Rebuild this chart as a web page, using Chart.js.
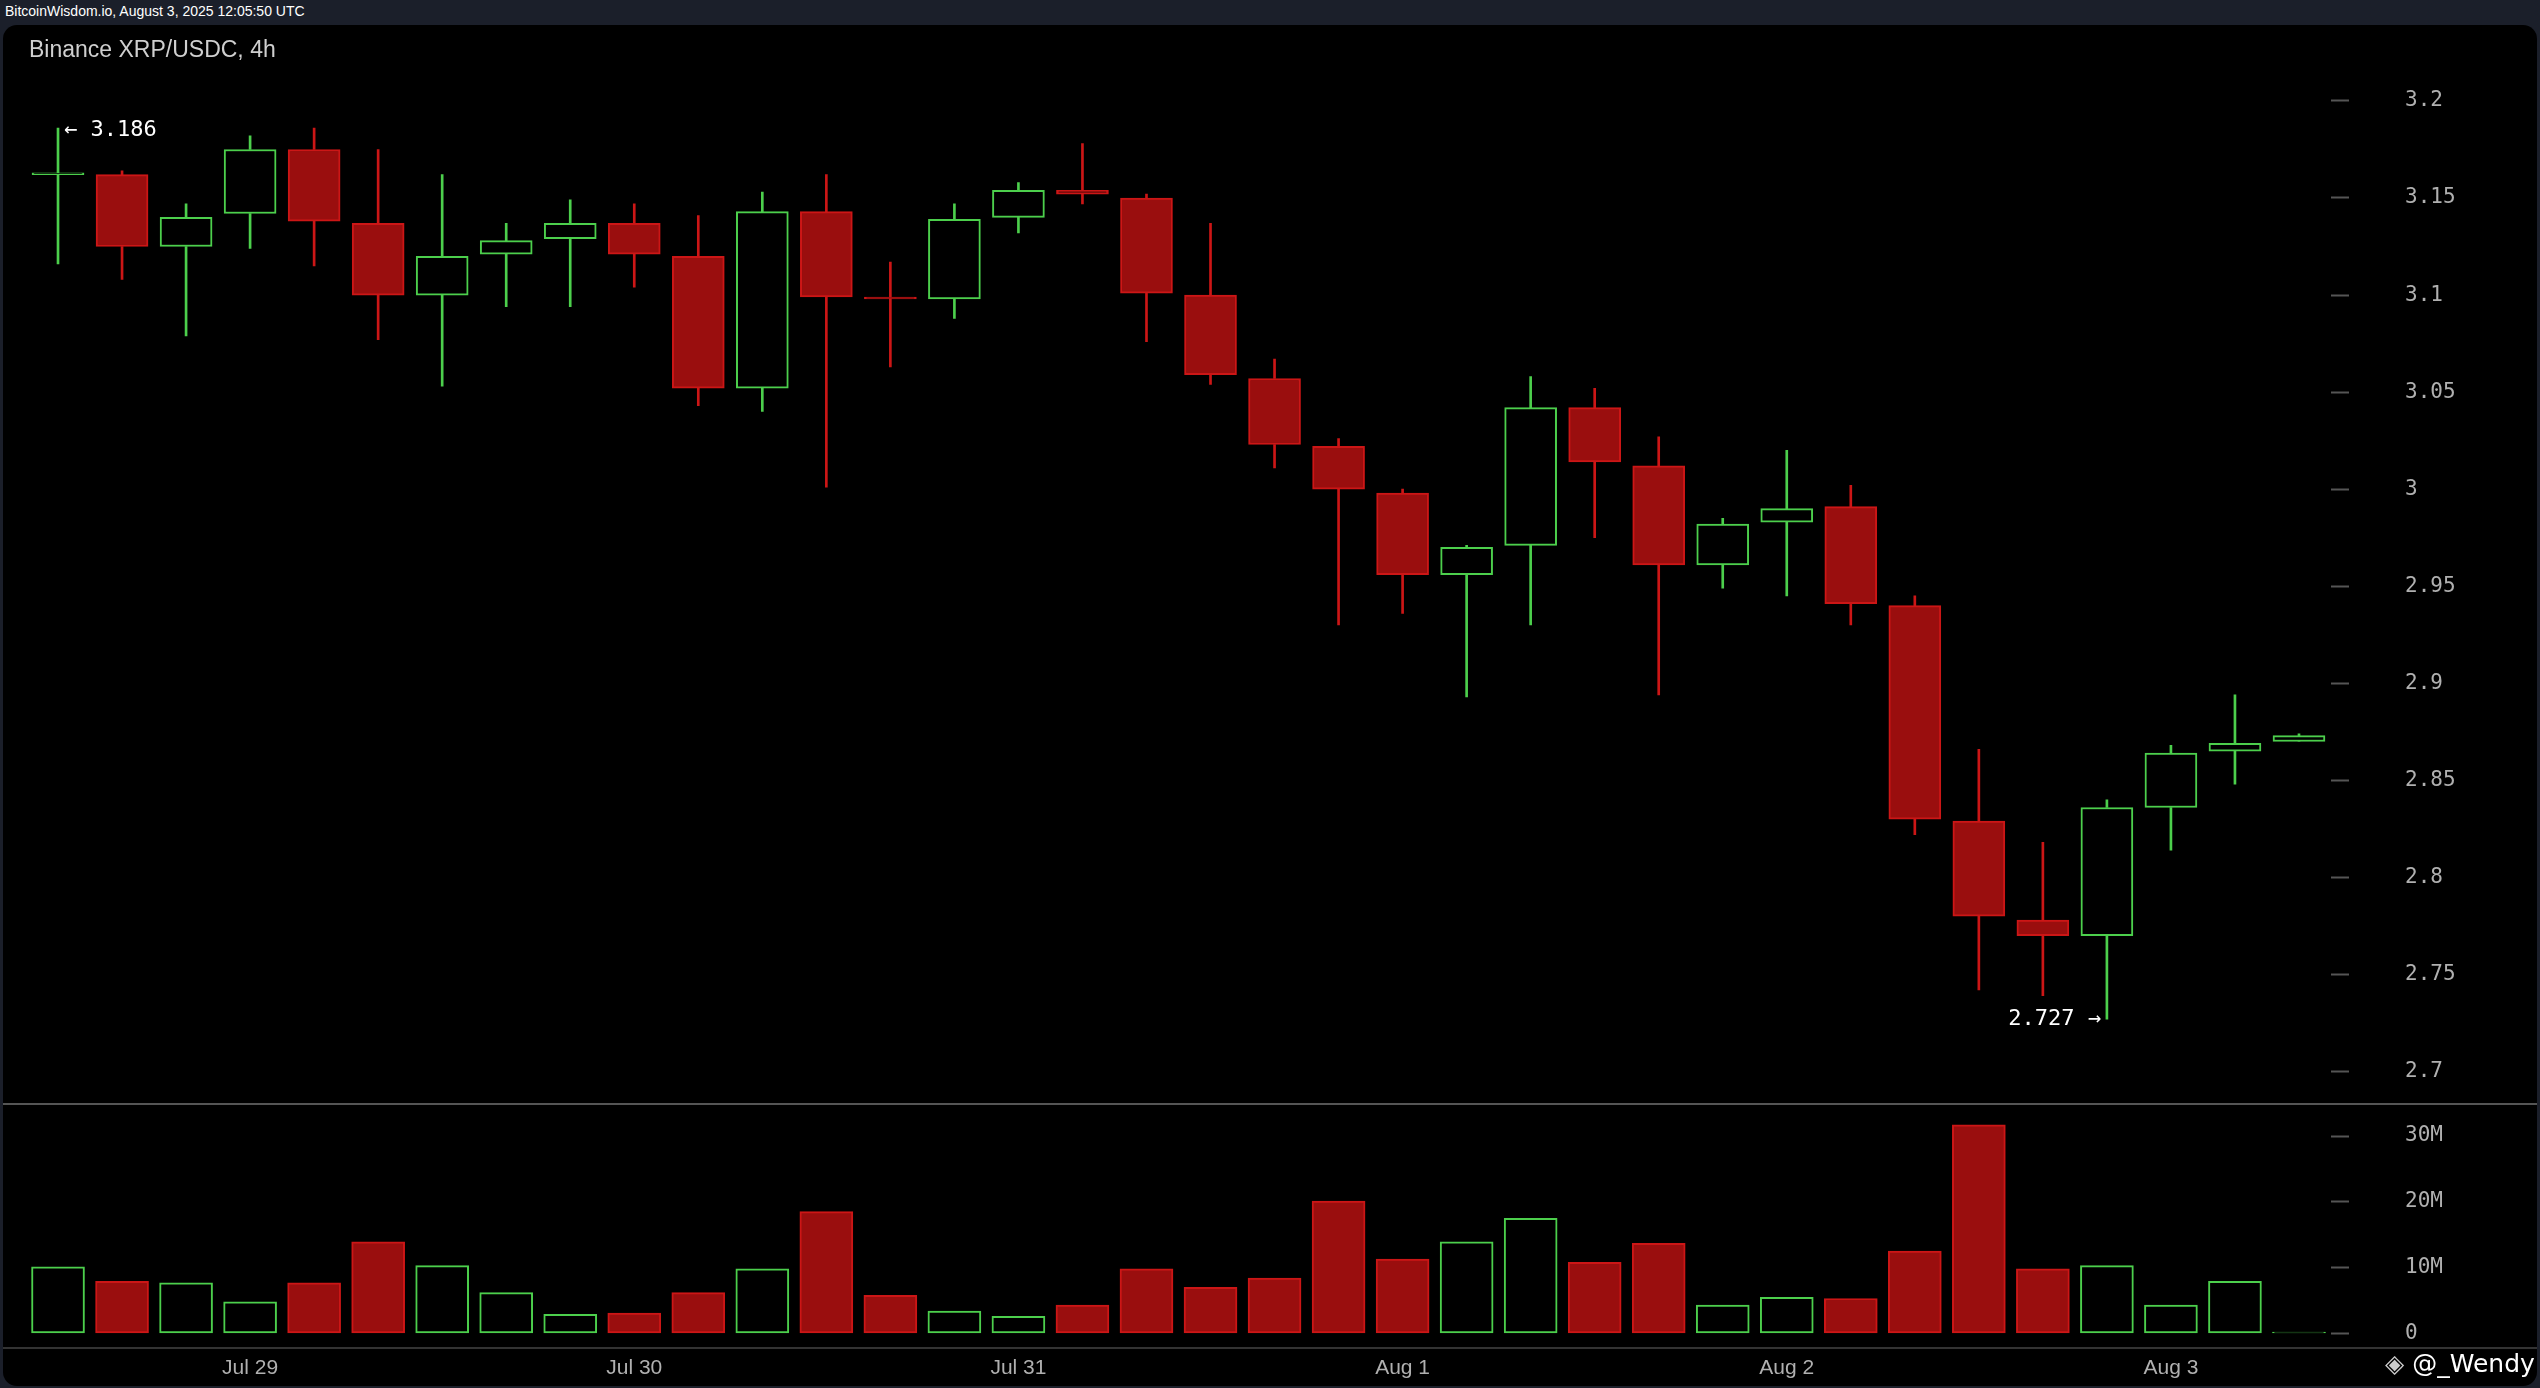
<!DOCTYPE html>
<html><head><meta charset="utf-8">
<script src="https://cdn.jsdelivr.net/npm/chart.js@4/dist/chart.umd.min.js"></script>
<style>
html,body{margin:0;padding:0;background:#1b1f2a;width:2540px;height:1388px;overflow:hidden;font-family:"Liberation Sans",Arial,sans-serif}
#hdr{position:absolute;left:5px;top:3px;color:#fff;font-size:14px}
#panel{position:absolute;left:3px;top:25px;width:2534px;height:1361px;background:#000;border-radius:14px}
#title{position:absolute;left:29px;top:36px;color:#cfcfcf;font-size:23px}
.c{position:absolute;left:0}
#pwrap{top:60px;width:2540px;height:1040px}
#vwrap{top:1103px;width:2540px;height:285px}
#div1{position:absolute;left:3px;top:1103px;width:2534px;height:2px;background:#555}
#div2{position:absolute;left:3px;top:1347px;width:2534px;height:2px;background:#333}
#wm{position:absolute;left:2385px;top:1349px;color:#fff;font-size:25px;line-height:30px;font-family:"DejaVu Sans";white-space:nowrap}
</style></head><body>
<div id="hdr">BitcoinWisdom.io, August 3, 2025 12:05:50 UTC</div>
<div id="panel"></div>
<div id="div1"></div><div id="div2"></div>
<div class="c" id="pwrap"><canvas id="pc" width="2540" height="1040"></canvas></div>
<div class="c" id="vwrap"><canvas id="vc" width="2540" height="285"></canvas></div>
<div id="title">Binance XRP/USDC, 4h</div>
<div id="wm"><span style="color:#ccc">◈</span> @_Wendy</div>
<script>
const dateLabels = ["","","","Jul 29","","","","","","Jul 30","","","","","","Jul 31","","","","","","Aug 1","","","","","","Aug 2","","","","","","Aug 3","",""];
const opens  = [3.162,3.162,3.125,3.142,3.175,3.137,3.100,3.121,3.129,3.137,3.120,3.052,3.143,3.099,3.098,3.140,3.154,3.150,3.100,3.057,3.022,2.998,2.956,2.971,3.042,3.012,2.961,2.983,2.991,2.940,2.829,2.778,2.770,2.836,2.865,2.870];
const highs  = [3.186,3.164,3.147,3.182,3.186,3.175,3.162,3.137,3.149,3.147,3.141,3.153,3.162,3.117,3.147,3.158,3.178,3.152,3.137,3.067,3.026,3.000,2.971,3.058,3.052,3.027,2.985,3.020,3.002,2.945,2.866,2.818,2.840,2.868,2.894,2.874];
const lows   = [3.116,3.108,3.079,3.124,3.115,3.077,3.053,3.094,3.094,3.104,3.043,3.040,3.001,3.063,3.088,3.132,3.147,3.076,3.054,3.011,2.930,2.936,2.893,2.930,2.975,2.894,2.949,2.945,2.930,2.822,2.742,2.739,2.727,2.814,2.848,2.870];
const closes = [3.163,3.125,3.140,3.175,3.138,3.100,3.120,3.128,3.137,3.121,3.052,3.143,3.099,3.098,3.139,3.154,3.152,3.101,3.059,3.023,3.000,2.956,2.970,3.042,3.014,2.961,2.982,2.990,2.941,2.830,2.780,2.770,2.836,2.864,2.869,2.873];
const volumes = [10.1,7.9,7.7,4.8,7.7,13.9,10.3,6.2,2.9,3.1,6.2,9.8,18.5,5.8,3.4,2.6,4.3,9.8,7.0,8.4,20.1,11.3,13.9,17.5,10.8,13.7,4.3,5.5,5.3,12.5,31.7,9.8,10.3,4.3,7.9,0.2];
const priceTicks = [2.7,2.75,2.8,2.85,2.9,2.95,3,3.05,3.1,3.15,3.2];
const volTicks = [0,10,20,30];

const GREEN='#4ccf4c', RED='#cc1616', REDF='#9a0e0e';
const up = opens.map((o,i)=>closes[i]>=o);
const col = up.map(u=>u?GREEN:RED);
const fill = up.map(u=>u?'#000':REDF);
const idx = opens.map((_,i)=>i);

const rightW = 209;
function yAxis(min,max,ticks,fmt){
  return {position:'right',min,max,
    afterBuildTicks:s=>{s.ticks=ticks.map(v=>({value:v}));},
    afterFit:s=>{s.width=rightW;},
    border:{display:false},
    grid:{drawOnChartArea:false,tickLength:74,color:'#555',tickWidth:2,tickBorderDash:[18,2000]},
    ticks:{padding:0,color:'#b0b0b0',font:{family:'DejaVu Sans Mono',size:21},callback:fmt}};
}
const annot={id:'annot',afterDatasetsDraw(c){
  const ctx=c.ctx,x=c.scales.x,y=c.scales.y;
  const hi=Math.max(...highs),hiI=highs.indexOf(hi),lo=Math.min(...lows),loI=lows.indexOf(lo);
  ctx.save();ctx.fillStyle='#fff';ctx.font='22px "DejaVu Sans Mono"';ctx.textBaseline='middle';
  ctx.textAlign='left';ctx.fillText('← '+hi.toFixed(3),x.getPixelForValue(hiI)+6,y.getPixelForValue(hi)+2);
  ctx.textAlign='right';ctx.fillText(lo.toFixed(3)+' →',x.getPixelForValue(loI)-6,y.getPixelForValue(lo));
  ctx.restore();}};

new Chart(document.getElementById('pc'),{type:'bar',
  data:{labels:dateLabels,datasets:[
    {data:idx.map(i=>[Math.max(opens[i],closes[i]),highs[i]]),backgroundColor:col,barThickness:2,grouped:false},
    {data:idx.map(i=>[lows[i],Math.min(opens[i],closes[i])]),backgroundColor:col,barThickness:2,grouped:false},
    {data:idx.map(i=>[opens[i],closes[i]]),backgroundColor:fill,borderColor:col,borderWidth:2,borderSkipped:false,barThickness:52,grouped:false}
  ]},
  options:{responsive:false,animation:false,devicePixelRatio:1,
    layout:{padding:{left:26,top:0,bottom:0,right:0}},
    plugins:{legend:{display:false},tooltip:{enabled:false}},
    scales:{x:{offset:true,display:false},
      y:yAxis(2.6918,3.2146,priceTicks,v=>String(+v.toFixed(2)))}},
  plugins:[annot]});

new Chart(document.getElementById('vc'),{type:'bar',
  data:{labels:dateLabels,datasets:[
    {data:volumes.map(v=>[0,v]),backgroundColor:fill,borderColor:col,borderWidth:2,borderSkipped:false,barThickness:53}]},
  options:{responsive:false,animation:false,devicePixelRatio:1,
    layout:{padding:{left:26,top:0,bottom:0,right:0}},
    plugins:{legend:{display:false},tooltip:{enabled:false}},
    scales:{x:{offset:true,border:{display:false},grid:{display:false},
        afterFit:s=>{s.height=48;},
        ticks:{autoSkip:false,maxRotation:0,padding:8,color:'#b0b0b0',font:{family:'Liberation Sans',size:21}}},
      y:yAxis(-1.0,33.1,volTicks,v=>v===0?'0':v+'M')}}});
</script>
</body></html>
